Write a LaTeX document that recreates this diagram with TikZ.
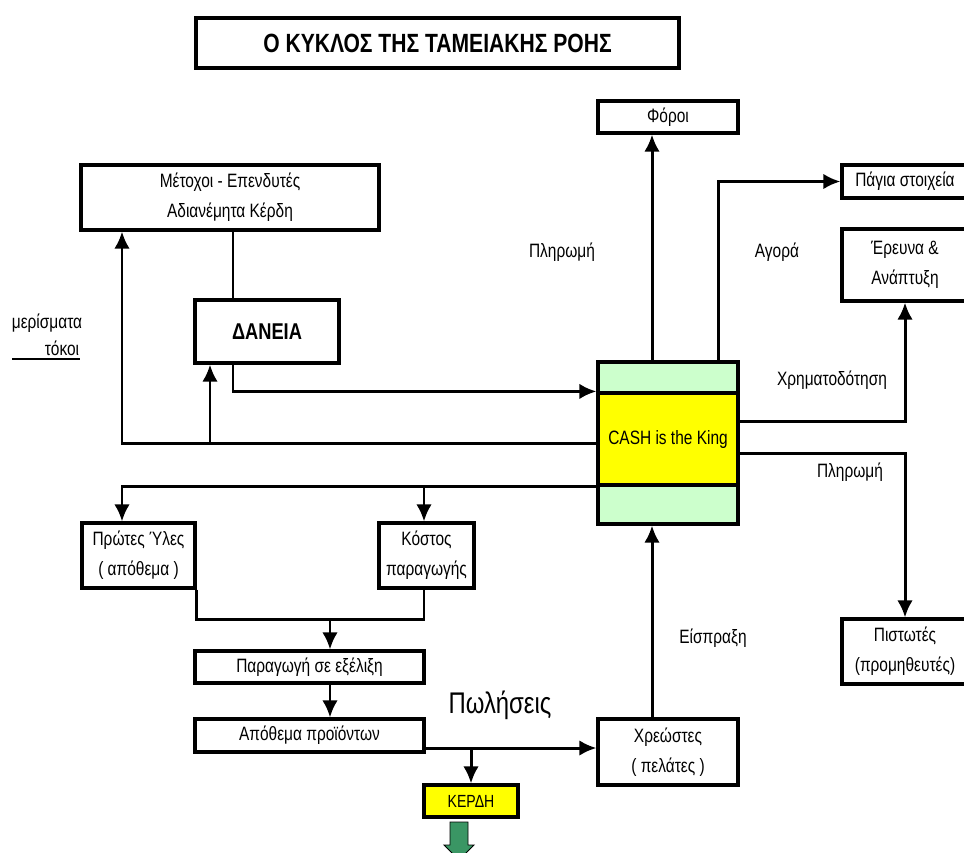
\documentclass[tikz,border=0pt]{standalone}
\usepackage{fontspec}
\setmainfont{Liberation Sans}[FakeStretch=0.8]
\usetikzlibrary{arrows.meta}
\usetikzlibrary{calc}

\definecolor{cashgreen}{RGB}{204,255,204}
\definecolor{cashyellow}{RGB}{255,255,0}
\definecolor{exitgreen}{RGB}{58,150,100}

\begin{document}
\begin{tikzpicture}[x=0.2mm,y=-0.2mm,
  box/.style 2 args={draw, line width=1.8pt, minimum width=#1*0.2mm, minimum height=#2*0.2mm, inner sep=0pt, align=center, font=\fontsize{11}{17}\selectfont},
  arr/.style={line width=1.7pt, -{Latex[length=3.4mm,width=3.1mm]}},
  lnk/.style={line width=1.7pt},
  lbl/.style={font=\fontsize{11}{13}\selectfont}]
\useasboundingbox (0,0) rectangle (964,852);

\path (437.5,43) node[box={483}{50}, font=\fontsize{15}{18}\selectfont\bfseries] (title) {Ο ΚΥΚΛΟΣ ΤΗΣ ΤΑΜΕΙΑΚΗΣ ΡΟΗΣ};

\path (668,117) node[box={140}{32}] (foroi) {Φόροι};
\path (230,197.5) node[box={298}{65}] (metoxoi) {Μέτοχοι - Επενδυτές\\Αδιανέμητα Κέρδη};
\path (905,181.5) node[box={126}{33}] (pagia) {Πάγια στοιχεία};
\path (905,265) node[box={126}{72}] (erevna) {Έρευνα \&\\Ανάπτυξη};
\path (267,331.5) node[box={144}{63}, font=\fontsize{13}{15}\selectfont\bfseries] (daneia) {ΔΑΝΕΙΑ};
\path (668,443) node[box={140}{162}, fill=cashgreen] (cash) {};
\path (668,439) node[box={140}{92}, fill=cashyellow] (cashband) {CASH is the King};
\path (138.5,555.5) node[box={113}{65}] (protes) {Πρώτες Ύλες\\( απόθεμα )};
\path (426.5,555.5) node[box={95}{65}] (kostos) {Κόστος\\παραγωγής};
\path (309.5,667) node[box={229}{32}] (paragogi) {Παραγωγή σε εξέλιξη};
\path (309.5,735.5) node[box={229}{33}] (apothema) {Απόθεμα προϊόντων};
\path (668,752) node[box={140}{66}] (xreostes) {Χρεώστες\\( πελάτες )};
\path (905,651.5) node[box={126}{65}] (pistotes) {Πιστωτές\\(προμηθευτές)};
\path (471,801) node[box={94}{32}, fill=cashyellow, font=\fontsize{10}{12}\selectfont] (kerdi) {ΚΕΡΔΗ};

\path (47,323) node[lbl] (merismata) {μερίσματα};
\path (62,348) node[lbl] (tokoi) {τόκοι};
\path (562,252) node[lbl] (plirwmi) {Πληρωμή};
\path (777,252) node[lbl] (agora) {Αγορά};
\path (832,380) node[lbl] (xrimatodotisi) {Χρηματοδότηση};
\path (850,472) node[lbl] (plirwmiB) {Πληρωμή};
\path (713,638) node[lbl] (eispraxi) {Είσπραξη};
\path (500,705) node[font=\fontsize{17}{20}\selectfont] (poliseis) {Πωλήσεις};
\draw[line width=0.8pt] (12,359) -- (80,359);

\coordinate (xa) at (122,0);
\coordinate (xb) at (210,0);
\coordinate (xc) at (233,0);
\coordinate (xd) at (330,0);
\coordinate (xe) at (424,0);
\coordinate (xg) at (652,0);
\coordinate (xh) at (718,0);
\coordinate (yr1) at (0,421);
\coordinate (yr2) at (0,453);
\coordinate (yj) at (0,619);
\coordinate (ys) at (0,748);

\draw[lnk] (metoxoi.south -| xc) -- (daneia.north -| xc);
\draw[arr] (daneia.south -| xc) |- (cashband.north west);
\draw[arr] (cash.west) -| (metoxoi.south -| xa);
\draw[arr] (cash.west -| xb) -- (daneia.south -| xb);
\draw[arr] (cashband.south west) -| (protes.north -| xa);
\draw[arr] (cashband.south west -| xe) -- (kostos.north -| xe);

\draw[arr] (cash.north -| xg) -- (foroi.south -| xg);
\draw[arr] (cash.north -| xh) |- (pagia.west);
\draw[arr] (cash.east |- yr1) -| (erevna.south);
\draw[arr] (cash.east |- yr2) -| (pistotes.north);

\draw[lnk] (protes.south east) |- (yj -| xe) -- (kostos.south -| xe);
\draw[arr] (yj -| xd) -- (paragogi.north -| xd);
\draw[arr] (paragogi.south -| xd) -- (apothema.north -| xd);
\draw[arr] (apothema.east |- ys) -- (xreostes.west |- ys);
\draw[arr] (kerdi.north |- ys) -- (kerdi.north);
\draw[arr] (xreostes.north -| xg) -- (cash.south -| xg);

\draw[fill=exitgreen, line width=0.5pt] (450,822) -- (468,822) -- (468,845) -- (474,845) -- (459,860) -- (444,845) -- (450,845) -- cycle;

\end{tikzpicture}
\end{document}
